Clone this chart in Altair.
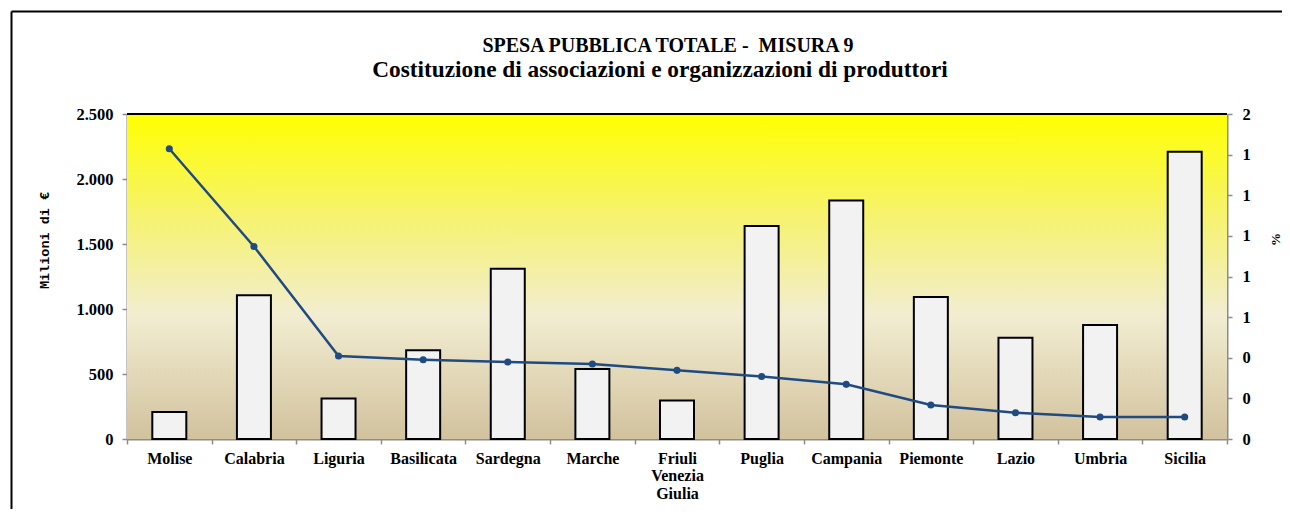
import altair as alt
import pandas as pd

regions = ["Molise", "Calabria", "Liguria", "Basilicata", "Sardegna", "Marche",
           "Friuli Venezia Giulia", "Puglia", "Campania", "Piemonte", "Lazio",
           "Umbria", "Sicilia"]
spesa = [208, 1105, 312, 682, 1310, 538, 297, 1638, 1835, 1092, 779, 877, 2210]
percent = [1.429, 0.948, 0.409, 0.390, 0.379, 0.369, 0.338, 0.308, 0.269,
           0.167, 0.129, 0.108, 0.108]
left_ticks = [0, 500, 1000, 1500, 2000, 2500]
right_ticks = [0, 0.2, 0.4, 0.6, 0.8, 1.0, 1.2, 1.4, 1.6]
title_1 = "SPESA PUBBLICA TOTALE - \u00a0MISURA 9"
title_2 = "Costituzione di associazioni e organizzazioni di produttori"

df = pd.DataFrame({"regione": regions, "spesa": spesa, "perc": percent})

W, H = 1100, 325
SERIF = "Liberation Serif"

x_enc = alt.X(
    "regione:N", sort=regions, title=None,
    scale=alt.Scale(paddingInner=0, paddingOuter=0),
    axis=alt.Axis(
        labelAngle=0, labelFont=SERIF, labelFontWeight="bold", labelFontSize=16,
        labelColor="black", labelPadding=6, labelLineHeight=17.5,
        labelExpr="split(datum.label, ' ')", labelBaseline="top",
        tickBand="extent", tickSize=5, tickColor="#8c8c8c", tickWidth=1.5,
        domainColor="#8c8c8c", domainWidth=2, grid=False,
    ),
)

gradient = alt.LinearGradient(
    gradient="linear", x1=0, x2=0, y1=0, y2=1,
    stops=[
        alt.GradientStop(offset=0, color="#ffff00"),
        alt.GradientStop(offset=0.3, color="#f6f36a"),
        alt.GradientStop(offset=0.62, color="#f2edd1"),
        alt.GradientStop(offset=1, color="#d2c29e"),
    ],
)

one = alt.Data(values=[{}])

background = alt.Chart(one).mark_rect(fill=gradient).encode(
    x=alt.value(0), x2=alt.value(W), y=alt.value(0), y2=alt.value(H)
)

bars = alt.Chart(df).mark_bar(
    size=34, fill="#f2f2f2", stroke="black", strokeWidth=2
).encode(
    x=x_enc,
    y=alt.Y(
        "spesa:Q",
        scale=alt.Scale(domain=[0, 2500], nice=False),
        axis=alt.Axis(
            orient="left", values=left_ticks, grid=False,
            title="Milioni di €", titleFont="Liberation Mono", titleFontSize=13.5,
            titleFontWeight="bold", titleColor="black", titleX=-83, titleY=126,
            titleAngle=-90, titleAlign="center", titleBaseline="middle",
            labelExpr="replace(format(datum.value, ','), ',', '.')",
            labelFont=SERIF, labelFontWeight="bold", labelFontSize=16.5,
            labelColor="black", labelPadding=9,
            tickSize=5, tickColor="#8c8c8c", tickWidth=1.5,
            domainColor="#8c8c8c", domainWidth=2,
        ),
    ),
)

top_rule = alt.Chart(one).mark_rule(
    color="black", strokeWidth=2
).encode(x=alt.value(0), x2=alt.value(W), y=alt.value(0))

line = alt.Chart(df).mark_line(
    color="#1f4a82", strokeWidth=2.5,
    point=alt.OverlayMarkDef(filled=True, size=50, color="#1f4a82"),
).encode(
    x=x_enc,
    y=alt.Y(
        "perc:Q",
        scale=alt.Scale(domain=[0, 1.6], nice=False),
        axis=alt.Axis(
            orient="right", values=right_ticks, grid=False, format=".0f",
            title="%", titleFont=SERIF, titleFontSize=13, titleFontWeight="bold",
            titleColor="black", titleX=48, titleY=125, titleAngle=-90,
            titleAlign="center", titleBaseline="middle",
            labelFont=SERIF, labelFontWeight="bold", labelFontSize=16.5,
            labelColor="black", labelPadding=10,
            tickSize=5, tickColor="#8c8c8c", tickWidth=1.5,
            domainColor="#8c8c8c", domainWidth=2,
        ),
    ),
)

t1 = alt.Chart(one).mark_text(
    font=SERIF, fontSize=20, fontWeight="bold", color="black",
    align="center", baseline="alphabetic",
).encode(x=alt.value(541), y=alt.value(-62), text=alt.value(title_1))
t2 = alt.Chart(one).mark_text(
    font=SERIF, fontSize=23.3, fontWeight="bold", color="black",
    align="center", baseline="alphabetic",
).encode(x=alt.value(533), y=alt.value(-37), text=alt.value(title_2))

frame = alt.Chart(one).mark_rule(color="black", strokeWidth=2)
frame_left = frame.encode(x=alt.value(-115.5), y=alt.value(-102.5), y2=alt.value(400))
frame_top = frame.encode(x=alt.value(-115.5), x2=alt.value(1170), y=alt.value(-102.5))

chart = alt.layer(
    background, bars, line, top_rule, t1, t2, frame_left, frame_top
).resolve_scale(y="independent").properties(
    width=W, height=H,
    padding={"left": 119, "top": 106, "right": 55, "bottom": 70},
    autosize=alt.AutoSizeParams(type="none"),
).configure_view(stroke=None).configure(background="white")

chart.save("out.html", embed_options={"renderer": "svg", "actions": False})
